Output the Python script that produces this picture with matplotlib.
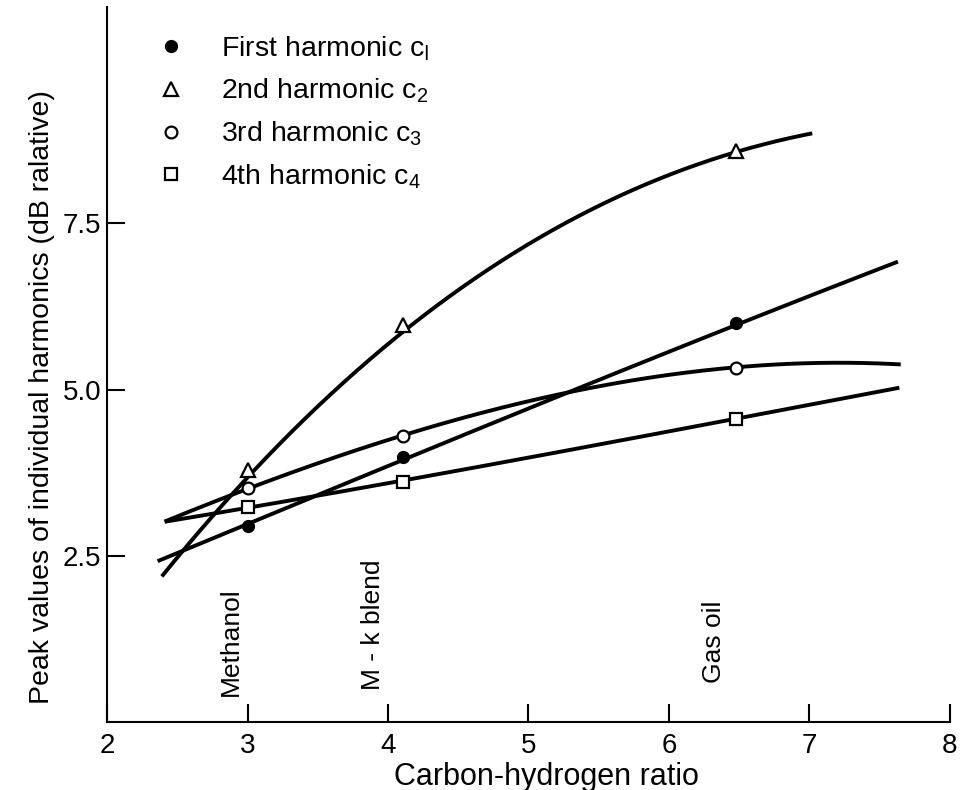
import numpy as np
import matplotlib.pyplot as plt

# Peak values of the individual harmonics against the carbon-hydrogen ratio
font = 'Liberation Sans'
plt.rcParams['font.family'] = [font, 'DejaVu Sans']
plt.rcParams['mathtext.fontset'] = 'custom'
plt.rcParams['mathtext.rm'] = font
plt.rcParams['mathtext.it'] = font

# measured points (fuels: methanol, M-k blend, gas oil)
ratio = [3.0, 4.11, 6.48]
c1 = [2.95, 3.98, 6.00]
c2 = [3.79, 5.97, 8.59]
c3 = [3.52, 4.30, 5.33]
c4 = [3.23, 3.61, 4.55]

# points
c1_curve_x = [2.36, 3.0, 4.11, 5.0, 6.07, 6.48, 7.63]
c1_curve_y = [2.43, 2.95, 3.98, 4.70, 5.60, 6.00, 6.92]
c2_curve_x = [2.39, 3.0, 3.94, 4.65, 5.36, 6.07, 6.48, 7.02]
c2_curve_y = [2.13, 3.79, 5.60, 6.54, 7.69, 8.32, 8.59, 8.82]
c3_curve_x = [2.41, 3.0, 3.94, 5.0, 6.07, 6.48, 7.09, 7.65]
c3_curve_y = [3.01, 3.52, 4.18, 4.85, 5.22, 5.33, 5.42, 5.37]
c4_curve_x = [2.41, 3.0, 4.11, 5.0, 6.07, 6.48, 7.64]
c4_curve_y = [3.01, 3.23, 3.61, 4.00, 4.40, 4.55, 5.03]

fuel_names = ['Methanol', 'M - k blend', 'Gas oil']
fuel_label_x = [2.88, 3.89, 6.32]
fuel_label_y = [0.39, 0.48, 0.58]

fig = plt.figure(figsize=(9.6, 7.9), dpi=100)
ax = fig.add_axes([0.1115, 0.086, 0.878, 0.905])

lw = 2.8
curves = [(c1_curve_x, c1_curve_y), (c2_curve_x, c2_curve_y),
          (c3_curve_x, c3_curve_y), (c4_curve_x, c4_curve_y)]
for cx, cy in curves:
    coef = np.polyfit(cx, cy, 3)
    xs = np.linspace(cx[0], cx[-1], 200)
    ax.plot(xs, np.polyval(coef, xs), color='black', lw=lw, solid_capstyle='butt')

ms = 8.5
ax.plot(ratio, c1, 'o', color='black', ms=ms, label='First harmonic c$_{\\mathsf{l}}$')
ax.plot(ratio, c2, '^', mfc='white', mec='black', mew=1.6, ms=ms + 1,
        label='2nd harmonic c$_2$')
ax.plot(ratio, c3, 'o', mfc='white', mec='black', mew=1.6, ms=ms,
        label='3rd harmonic c$_3$')
ax.plot(ratio, c4, 's', mfc='white', mec='black', mew=1.6, ms=ms,
        label='4th harmonic c$_4$')

for name, x, y in zip(fuel_names, fuel_label_x, fuel_label_y):
    ax.text(x, y, name, rotation=90, ha='center', va='bottom', fontsize=19)

ax.set_xlim(2, 8)
ax.set_ylim(0.0, 10.75)
ax.set_xticks([2, 3, 4, 5, 6, 7, 8])
ax.set_yticks([2.5, 5.0, 7.5])
ax.set_yticklabels(['2.5', '5.0', '7.5'])
ax.set_xticklabels(['2', '3', '4', '5', '6', '7', '8'])
ax.tick_params(direction='in', length=13, width=1.5, labelsize=20, pad=8)
ax.tick_params(axis='y', pad=4)

for side in ['top', 'right']:
    ax.spines[side].set_visible(False)
for side in ['left', 'bottom']:
    ax.spines[side].set_linewidth(1.5)

ax.set_xlabel('Carbon-hydrogen ratio', fontsize=22, labelpad=2)
ax.set_ylabel('Peak values of individual harmonics (dB ralative)', fontsize=20.5,
              labelpad=6)
ax.xaxis.label.set_x(0.521)
ax.yaxis.label.set_y(0.455)

ax.legend(loc='upper left', bbox_to_anchor=(0.024, 1.0), frameon=False,
          fontsize=20.5, handlelength=1.2, handletextpad=1.15, labelspacing=0.5,
          borderaxespad=0.55)

fig.savefig('out.png', dpi=100)
